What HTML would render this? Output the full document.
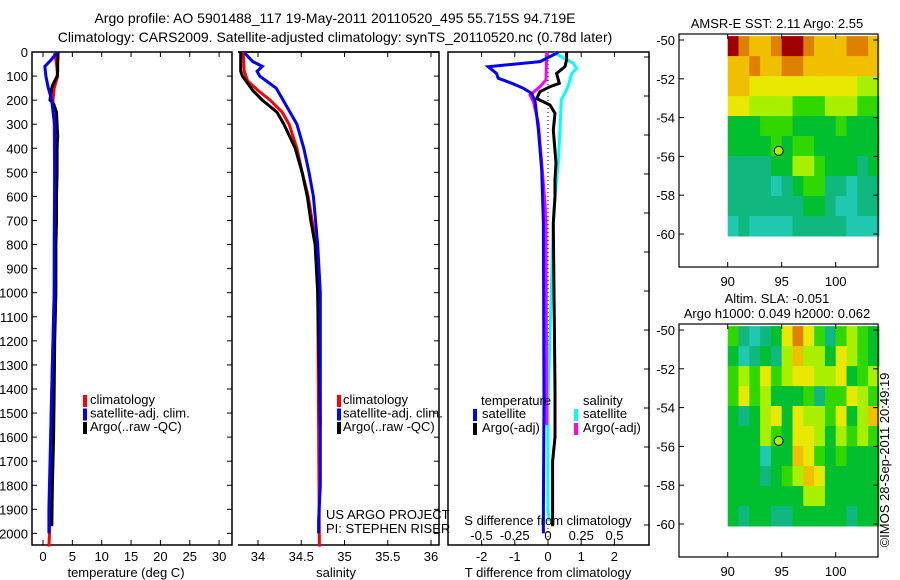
<!DOCTYPE html>
<html><head><meta charset="utf-8"><style>
body{margin:0;background:#fff;}
svg{display:block;font-family:"Liberation Sans",sans-serif;}
text{font-size:13px;fill:#000;}
</style></head><body>
<svg id="fig" width="900" height="580" viewBox="0 0 900 580">
<text x="335" y="23" text-anchor="middle" style="font-size:14px">Argo profile: AO 5901488_117 19-May-2011 20110520_495 55.715S 94.719E</text>
<text x="335" y="42" text-anchor="middle" style="font-size:14px">Climatology: CARS2009. Satellite-adjusted climatology: synTS_20110520.nc (0.78d later)</text>
<g id="g"></g>
</svg>
<script>
// ---- data ----
const tDepth=[0,20,50,80,100,140,160,200,215,250,300,350,400,500,600,700,800,1000,1200,1400,1600,1800,1970];
const tArgo=[2.55,2.55,2.5,2.5,2.4,1.6,1.4,1.2,1.8,2.3,2.4,2.5,2.4,2.4,2.3,2.3,2.2,2.2,2.0,1.9,1.8,1.6,1.5];
const tClimDepth=[0,50,100,150,200,300,500,800,1000,1500,1800,2000,2055];
const tClim=[2.0,2.3,2.5,1.9,1.7,1.9,2.0,2.0,1.9,1.4,1.2,1.1,1.0];
const tSatDepth=[0,30,60,100,150,200,250,300,500,800,1000,1500,1900,2000];
const tSat=[2.4,1.5,0.3,0.5,0.9,1.5,1.7,2.0,2.0,1.9,1.9,1.4,1.0,1.0];
const sArgoDepth=[0,80,100,130,160,200,250,300,400,500,600,700,800,1000,1550];
const sArgo=[33.8,33.8,33.82,33.88,33.94,34.05,34.22,34.3,34.43,34.51,34.57,34.61,34.66,34.69,34.72];
const sClimDepth=[0,80,120,160,200,250,300,400,500,600,800,1000,2055];
const sClim=[33.83,33.84,33.88,34.0,34.14,34.28,34.36,34.45,34.51,34.58,34.67,34.69,34.71];
const sSatDepth=[0,10,40,60,80,100,150,200,300,400,500,600,800,1000,1800,1950,2000];
const sSat=[33.85,33.86,33.94,34.05,33.99,34.02,34.21,34.29,34.45,34.53,34.59,34.64,34.69,34.72,34.72,34.7,34.7];
const dTDepth=[0,5,40,61,89,109,130,151,172,206,324,490,710,1450,1900,2000];
const dTSat=[0.3,0.26,-0.24,-1.8,-1.55,-1.5,-1.09,-0.74,-0.49,-0.39,-0.29,-0.19,-0.14,-0.12,-0.14,-0.14];
const dTArgoDepth=[0,33,61,89,130,144,165,193,220,255,324,461,530,600,710,1400,1600,1700,1970];
const dTArgo=[0.56,0.56,0.51,0.26,0.34,0.06,-0.24,-0.34,0.06,0.21,0.16,0.24,0.21,0.21,0.16,0.21,0.21,0.14,0.14];
const dSSatDepth=[0,5,47,68,89,144,199,324,461,601,710,1450,1900,1950];
const dSSat=[0.05,0.053,0.19,0.215,0.18,0.15,0.1,0.09,0.077,0.053,0.04,0.0,0.0,0.01];
const dSArgoDepth=[0,116,144,179,206,295,461,643,710,1550];
const dSArgo=[-0.01,-0.015,-0.06,-0.135,-0.11,-0.073,-0.047,-0.02,-0.015,-0.01];
const depthTicks=[0,100,200,300,400,500,600,700,800,900,1000,1100,1200,1300,1400,1500,1600,1700,1800,1900,2000];
const tempTicks=[0,5,10,15,20,25,30];
const salTicks=[34,34.5,35,35.5,36];
const salTickLabels=["34","34.5","35","35.5","36"];
const dTTicks=[-2,-1,0,1,2];
const dSTicks=[-0.5,-0.25,0,0.25,0.5];
const latTicks=[-50,-52,-54,-56,-58,-60];
const lonTicks=[90,95,100];
const sstGrid=[
"98778998777887","77877887777777","77666666666655","66555544455544","33344433334333",
"33334344333333","22223355433323","22221234422122","22222223321122","12111122222111"];
const slaGrid=[
"42123686424543","31232575536543","45464566556345","46453334244654","32356365546357",
"33354366535454","33313376434333","33323457633333","33333335533333","32332233333233"];
const argoLon=94.72, argoLat=-55.715;
// ---- helpers ----
const NS="http://www.w3.org/2000/svg", G=document.getElementById('g');
function el(tag,attrs,parent){const e=document.createElementNS(NS,tag);for(const k in attrs)e.setAttribute(k,attrs[k]);(parent||G).appendChild(e);return e;}
const Y=d=>52+d*0.2407;
const xT=v=>43+v*5.87;
const xS=v=>258+(v-34)*86.5;
const xdT=v=>548+v*33.2;
const xdS=v=>548+v*133;
function frame(x0,y0,x1,y1,name,noLeft){
 const g=el('path',{d:(noLeft?`M${x0} ${y1}H${x1}V${y0}H${x0}`:`M${x0} ${y0}H${x1}V${y1}H${x0}Z`),fill:'none',stroke:'#000','stroke-width':1.5});
 
 
}
function line(xs,ds,fx,color,name){
 const p=xs.map((v,i)=>`${i?'L':'M'}${fx(v).toFixed(1)} ${Y(ds[i]).toFixed(1)}`).join('');
 const e=el('path',{d:p,fill:'none',stroke:color,'stroke-width':3,'stroke-linejoin':'miter'});
 
 
}
function txt(x,y,s,anchor,name,extra){
 const e=el('text',Object.assign({x:x,y:y,'text-anchor':anchor||'start'},extra||{}));e.textContent=s;
 
 
 return e;
}
function tick(x1,y1,x2,y2,name){
 const e=el('line',{x1:x1,y1:y1,x2:x2,y2:y2,stroke:'#000','stroke-width':1});
 
 
}
function legendBar(x,y,color,name){
 const e=el('rect',{x:x,y:y-9,width:4,height:12,fill:color});
 
 
}
// ---- panel 1 temperature ----
frame(32,52,232,545,'temperature-axes-frame');
depthTicks.forEach(d=>{tick(32,Y(d),37,Y(d),'depth-tick');tick(227,Y(d),232,Y(d),'depth-tick-right');txt(28,Y(d)+5,String(d),'end','depth-tick-label');});
tempTicks.forEach(t=>{tick(xT(t),52,xT(t),57,'temp-tick-top');tick(xT(t),540,xT(t),545,'temp-tick');txt(xT(t),561,String(t),'middle','temp-tick-label');});
txt(126,577,'temperature (deg C)','middle','temperature-axis-title');
line(tClim,tClimDepth,xT,'#f00','temp-climatology-line');
line(tArgo,tDepth,xT,'#000','temp-argo-line');
line(tSat,tSatDepth,xT,'#00f','temp-satellite-line');
[['climatology','#f00'],['satellite-adj. clim.','#00f'],['Argo(..raw -QC)','#000']].forEach((l,i)=>{legendBar(83,404+i*13.5,l[1],'temp-legend-swatch');txt(90,404+i*13.5,l[0],'start','temp-legend-entry');});
// ---- panel 2 salinity ----
frame(238,52,439,545,'salinity-axes-frame',true);
el('line',{x1:238,y1:52,x2:439,y2:52,stroke:'#000','stroke-width':1.5});
depthTicks.forEach(d=>{tick(434,Y(d),439,Y(d),'salinity-depth-tick');});
salTicks.forEach((s,i)=>{tick(xS(s),52,xS(s),57,'salinity-tick-top');tick(xS(s),540,xS(s),545,'salinity-tick');txt(xS(s),561,salTickLabels[i],'middle','salinity-tick-label');});
txt(336,577,'salinity','middle','salinity-axis-title');
line(sClim,sClimDepth,xS,'#f00','sal-climatology-line');
line(sArgo,sArgoDepth,xS,'#000','sal-argo-line');
line(sSat,sSatDepth,xS,'#00f','sal-satellite-line');
[['climatology','#f00'],['satellite-adj. clim.','#00f'],['Argo(..raw -QC)','#000']].forEach((l,i)=>{legendBar(337,404+i*13.5,l[1],'sal-legend-swatch');txt(343,404+i*13.5,l[0],'start','sal-legend-entry');});
txt(326,519,'US ARGO PROJECT','start','project-label');
txt(326,533,'PI: STEPHEN RISER','start','pi-label');
// ---- panel 3 differences ----
frame(448,52,649,545,'difference-axes-frame');
dTTicks.forEach(t=>{tick(xdT(t),52,xdT(t),57,'dT-tick-top');tick(xdT(t),540,xdT(t),545,'dT-tick');txt(xdT(t),561,String(t),'middle','dT-tick-label');});
for(let y=525;y>55;y-=39){tick(644,y,649,y,'diff-right-tick');}
const z=el('line',{x1:548,y1:52,x2:548,y2:545,stroke:'#000','stroke-width':1,'stroke-dasharray':'1,3'});


line(dSSat,dSSatDepth,xdS,'#0ff','dS-satellite-line');
line(dTArgo,dTArgoDepth,xdT,'#000','dT-argo-line');
line(dSArgo,dSArgoDepth,xdS,'#f0f','dS-argo-line');
line(dTSat,dTDepth,xdT,'#00f','dT-satellite-line');
txt(548,577,'T difference from climatology','middle','dT-axis-title');
txt(548,525,'S difference from climatology','middle','dS-axis-title');
dSTicks.forEach(s=>txt(xdS(s),540,String(s),'middle','dS-tick-label'));
txt(481,405,'temperature','start','legend-temperature-header');
txt(583,405,'salinity','start','legend-salinity-header');
legendBar(473,418,'#00f','dT-sat-swatch');txt(482,418,'satellite','start','legend-entry');
legendBar(473,432,'#000','dT-argo-swatch');txt(482,432,'Argo(-adj)','start','legend-entry');
legendBar(574,418,'#0ff','dS-sat-swatch');txt(583,418,'satellite','start','legend-entry');
legendBar(574,432,'#f0f','dS-argo-swatch');txt(583,432,'Argo(-adj)','start','legend-entry');
// ---- maps ----
const pal=['#00d8d8','#20c8b0','#10b880','#00c030','#30d800','#a8f000','#e8e800','#f0c000','#e08000','#a00000'];
function map(y0,grid,titles,name){
 const lat=v=>y0+6+(-50-v)*19.4, lon=v=>727.7+(v-90)*10.8;
 grid.forEach((row,r)=>{[...row].forEach((c,k)=>{
  const x=lon(90+k), yy=lat(-49.8-r*1.03);
  const e=el('rect',{x:x.toFixed(1),y:yy.toFixed(1),width:11.3,height:20.5,fill:pal[+c]});
  
  
 });});
 const f=el('rect',{x:679,y:y0,width:199,height:233,fill:'none',stroke:'#000','stroke-width':1.2});
 
 
 latTicks.forEach(v=>{tick(679,lat(v),684,lat(v),'lat-tick');tick(873,lat(v),878,lat(v),'lat-tick-right');txt(675,lat(v)+5,String(v),'end','lat-tick-label');});
 lonTicks.forEach(v=>{tick(lon(v),y0,lon(v),y0+5,'lon-tick-top');tick(lon(v),y0+228,lon(v),y0+233,'lon-tick');txt(lon(v),y0+252,String(v),'middle','lon-tick-label');});
 const c=el('circle',{cx:lon(argoLon),cy:lat(argoLat),r:4.5,fill:pal[5],stroke:'#000','stroke-width':1});
 
 
 titles.forEach((t,i)=>txt(777,y0-(titles.length-1-i)*15-6,t,'middle',name+'-title'));
}
map(34,sstGrid,['AMSR-E SST: 2.11 Argo: 2.55'],'sst-map');
map(324,slaGrid,['Altim. SLA: -0.051','Argo h1000: 0.049 h2000: 0.062'],'sla-map');
txt(0,0,'©IMOS 28-Sep-2011 20:49:19','middle','timestamp-label',{transform:'translate(889,460) rotate(-90)'});
</script>
</body></html>
